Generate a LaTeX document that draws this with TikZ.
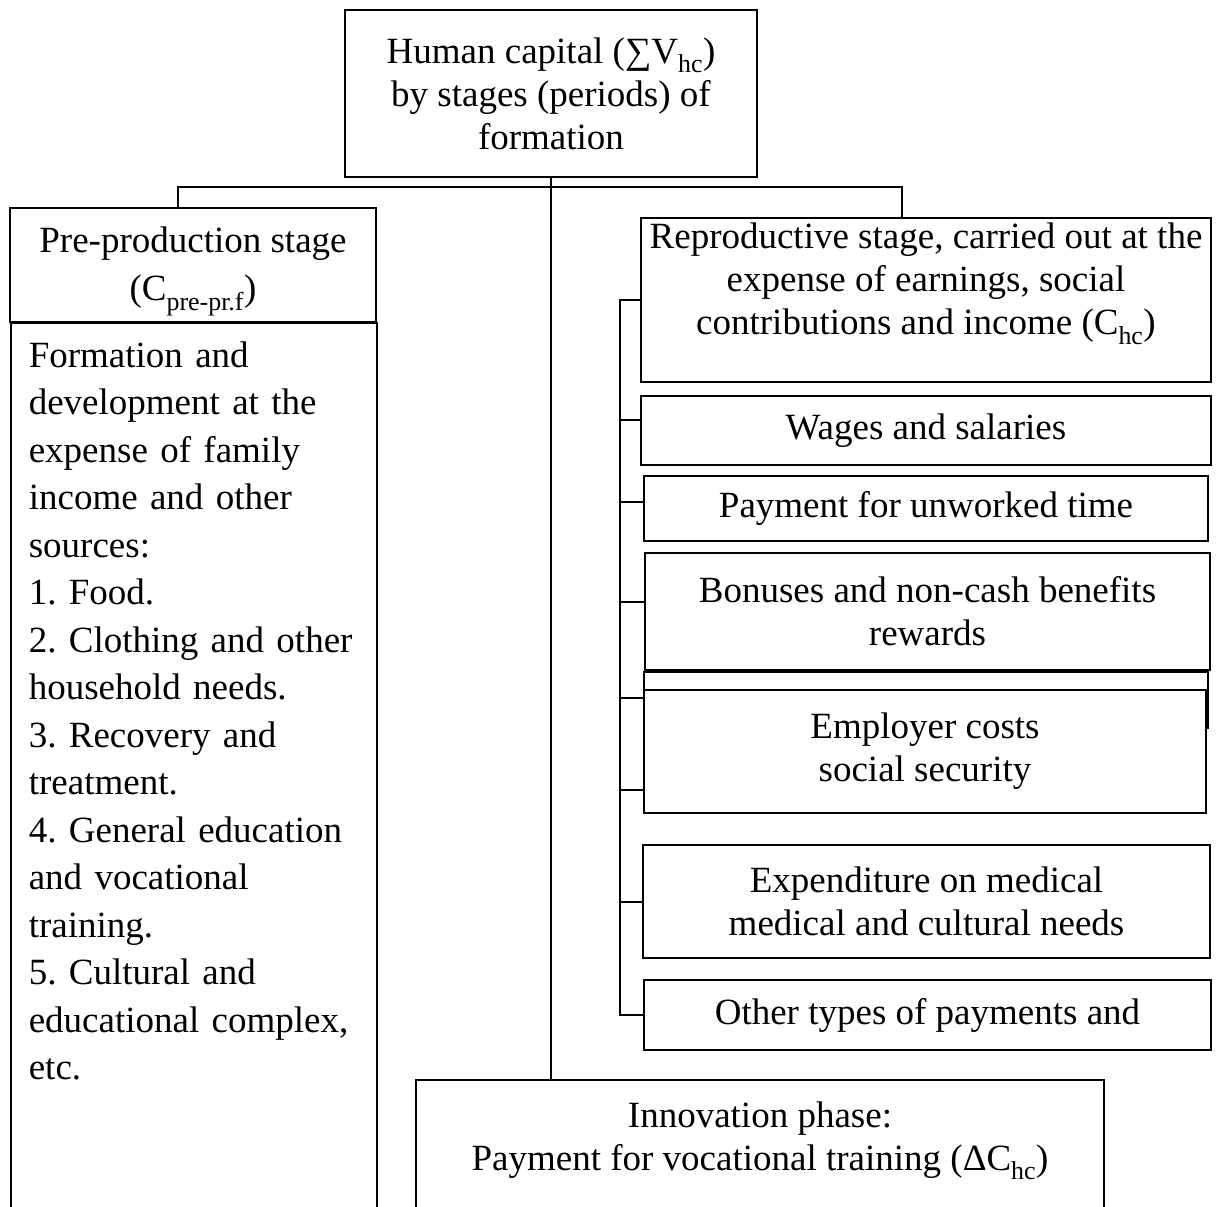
\documentclass[tikz,border=0pt]{standalone}
\usepackage{fontspec}
\setmainfont{Liberation Serif}
\usetikzlibrary{positioning}
\newcommand{\padbelow}[1]{\rule[-#1]{0pt}{#1}}
\newcommand{\padabove}[1]{\rule{0pt}{#1}}
\tikzset{
    capitalnode/.style={
        draw=black,
        fill=white,
        line width=1.6pt,
        inner sep=2pt,
        align=center,
        font=\fontsize{37}{43}\selectfont
    },
    capitallist/.style={
        capitalnode,
        anchor=north west,
        align=left,
        text width=330pt,
        inner xsep=18pt,
        inner ysep=19pt,
        font=\fontsize{37}{47.5}\selectfont\frenchspacing
    },
    capitallink/.style={
        draw=black,
        line width=1.6pt
    }
}

\begin{document}
\begin{tikzpicture}[x=1pt,y=-1pt]
    \useasboundingbox (0,0) rectangle (1219,1207);

    \node[capitalnode,minimum width=412pt,minimum height=167pt] (top) at (551,93.5)
        {Human capital (∑V\textsubscript{hc})\\by stages (periods) of\\formation};

    % left branch
    \node[capitalnode,minimum width=366pt,minimum height=114pt,
          font=\fontsize{37}{48}\selectfont] (pre) at (193,265)
        {\padabove{39pt}Pre-production stage\\(C\textsubscript{pre-pr.f})};
    \node[capitallist,minimum width=366pt] (prelist) at (10,322)
        {Formation and\\development at the\\expense of family\\income and other\\sources:\\
         1. Food.\\2. Clothing and other\\household needs.\\3. Recovery and\\treatment.\\
         4. General education\\and vocational\\training.\\5. Cultural and\\
         educational complex,\\etc.\padbelow{200pt}};

    % right branch
    \node[capitalnode,minimum width=570pt,minimum height=164pt] (repro) at (926,300)
        {Reproductive stage, carried out at the\\expense of earnings, social\\
         contributions and income (C\textsubscript{hc})\padbelow{42pt}};
    \node[capitalnode,minimum width=570pt,minimum height=69pt] (wages) at (926,430.5)
        {Wages and salaries};
    \node[capitalnode,minimum width=564pt,minimum height=65pt] (payment) at (926,508.5)
        {Payment for unworked time};
    \node[capitalnode,minimum width=565pt,minimum height=117pt] (bonuses) at (927.5,611.5)
        {Bonuses and non-cash benefits\\rewards};
    \node[capitalnode,minimum width=564pt,minimum height=56pt] (strip) at (926,700) {};
    \node[capitalnode,minimum width=562pt,minimum height=123pt] (employer) at (925,751.5)
        {Employer costs\\social security};
    \node[capitalnode,minimum width=567pt,minimum height=113pt] (expend) at (926.5,901.5)
        {Expenditure on medical\\medical and cultural needs};
    \node[capitalnode,minimum width=567pt,minimum height=70pt] (other) at (927.5,1015)
        {Other types of payments and};

    % bottom
    \node[capitalnode,minimum width=688pt,minimum height=160pt] (innov) at (760,1160)
        {Innovation phase:\\Payment for vocational training (ΔC\textsubscript{hc})\padbelow{48pt}};

    % connectors
    \coordinate (jl) at (178,187);
    \coordinate (jr) at (902,187);
    \coordinate (trunk) at (620,300);
    \draw[capitallink] (jl |- pre.north) -- (jl) -- (jr) -- (jr |- repro.north);
    \draw[capitallink] (top.south) -- (top.south |- innov.north);
    \draw[capitallink] (repro.west) -- (trunk) -- (trunk |- other.west) -- (other.west);
    \foreach \b/\y in {wages/420,payment/502,bonuses/602,strip/698,employer/790,expend/902}
        \draw[capitallink] (620,\y) -- (\b.west |- 620,\y);
\end{tikzpicture}
\end{document}
